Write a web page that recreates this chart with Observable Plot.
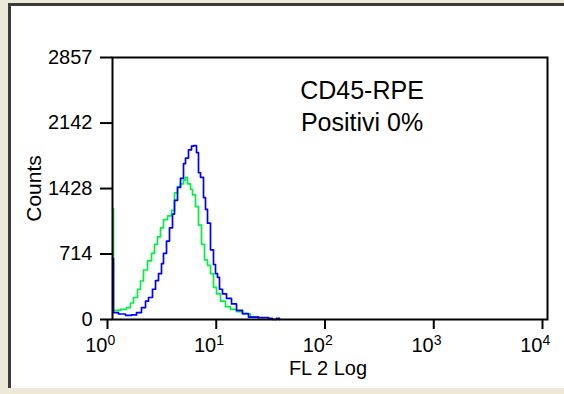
<!DOCTYPE html>
<html><head><meta charset="utf-8">
<script src="https://cdn.jsdelivr.net/npm/d3@7"></script>
<script src="https://cdn.jsdelivr.net/npm/@observablehq/plot@0.6"></script>
<style>
body{margin:0;background:#ECE9D8;}
#wrap{position:relative;width:564px;height:394px;background:#ECE9D8;overflow:hidden;}
#panel{position:absolute;left:8px;top:3px;right:0;bottom:6px;background:#fff;border-left:3px solid #3c3c3c;border-top:3px solid #3c3c3c;}
#chart{position:absolute;left:0;top:0;}
</style></head><body>
<div id="wrap"><div id="panel"></div><div id="chart"></div></div>
<script>
// FL 2 Log channel values and counts
const blueFL = [1, 1.021, 1.135, 1.317, 1.495, 1.663, 1.848, 2.012, 2.143, 2.332, 2.486, 2.649, 2.822, 2.944, 3.138, 3.343, 3.563, 3.717, 3.961, 4.221, 4.497, 4.692, 4.998, 5.326, 5.556, 5.921, 6.178, 6.446, 6.868, 7.165, 7.475, 7.964, 8.486, 8.853, 9.237, 9.636, 10.27, 11.18, 12.43, 13.81, 15.68, 17.81, 22.00, 27.20, 29.60, 32.21, 34.33];
const blueCounts = [665, 75, 60, 45, 50, 75, 130, 200, 240, 330, 425, 500, 610, 720, 855, 1000, 1150, 1300, 1440, 1540, 1700, 1760, 1850, 1890, 1895, 1820, 1600, 1550, 1330, 1200, 1050, 760, 600, 500, 460, 330, 280, 230, 170, 100, 65, 25, 20, 12, 0, 12, 0];
const greenFL = [1, 1.021, 1.185, 1.345, 1.464, 1.560, 1.698, 1.809, 1.928, 2.098, 2.284, 2.433, 2.593, 2.763, 2.944, 3.204, 3.487, 3.717, 3.961, 4.221, 4.497, 4.692, 4.894, 5.214, 5.440, 5.798, 6.178, 6.583, 7.015, 7.475, 7.964, 8.486, 9.044, 9.842, 10.94, 12.16, 13.81, 15.68, 18.58, 22.00];
const greenCounts = [1210, 100, 110, 130, 180, 240, 330, 420, 540, 640, 720, 820, 900, 1000, 1090, 1130, 1190, 1380, 1450, 1480, 1520, 1550, 1480, 1420, 1360, 1230, 1030, 820, 650, 590, 500, 350, 280, 200, 140, 110, 85, 60, 30, 0];
const yTicks = [0, 714, 1428, 2142, 2857];
const xTicks = [1, 10, 100, 1000, 10000];
const xTickBase = "10";
const xTickExponents = ["0", "1", "2", "3", "4"];
const xLabel = "FL 2 Log";
const yLabel = "Counts";
const annotation = ["CD45-RPE", "Positivi 0%"];

const blue = blueFL.map((fl, i) => ({fl, count: blueCounts[i]}));
const green = greenFL.map((fl, i) => ({fl, count: greenCounts[i]}));

const font = "'Liberation Sans', Arial, sans-serif";
const plot = Plot.plot({
  width: 564, height: 394,
  marginLeft: 112, marginRight: 17, marginTop: 57, marginBottom: 75,
  style: {background: "transparent", fontFamily: font, fontSize: "20px", color: "#000", overflow: "visible"},
  x: {type: "log", domain: [1, 10000]},
  y: {domain: [0, 2857]},
  marks: [
    Plot.line(green, {x: "fl", y: "count", stroke: "#00f040", strokeWidth: 1.7, curve: "step-after"}),
    Plot.line(blue, {x: "fl", y: "count", stroke: "#0000ff", strokeWidth: 1.7, curve: "step-after"}),
    Plot.frame({stroke: "#000", strokeWidth: 2}),
    Plot.axisY({ticks: yTicks, tickSize: 12, tickPadding: 8, tickFormat: d => String(d), label: null, strokeWidth: 2, fontSize: 20}),
    Plot.axisX({ticks: xTicks, tickSize: 10, tickPadding: 8, tickFormat: () => xTickBase, textAnchor: "end", dx: -5, label: null, strokeWidth: 2, fontSize: 20}),
    Plot.text(xTicks, {x: d => d, text: (d, i) => xTickExponents[i], frameAnchor: "bottom", lineAnchor: "top", dy: 16, dx: -5, textAnchor: "start", fontSize: 14}),
    Plot.text([xLabel], {frameAnchor: "bottom", lineAnchor: "middle", textAnchor: "middle", dy: 49, dx: -2, fontSize: 20}),
    Plot.text([yLabel], {frameAnchor: "left", textAnchor: "middle", lineAnchor: "middle", dx: -78, rotate: -90, fontSize: 21}),
    Plot.text([annotation[0]], {frameAnchor: "top", lineAnchor: "bottom", textAnchor: "middle", dx: 32, dy: 41, fontSize: 25}),
    Plot.text([annotation[1]], {frameAnchor: "top", lineAnchor: "bottom", textAnchor: "middle", dx: 32, dy: 73, fontSize: 25})
  ]
});
document.getElementById("chart").appendChild(plot);
</script>
</body></html>
